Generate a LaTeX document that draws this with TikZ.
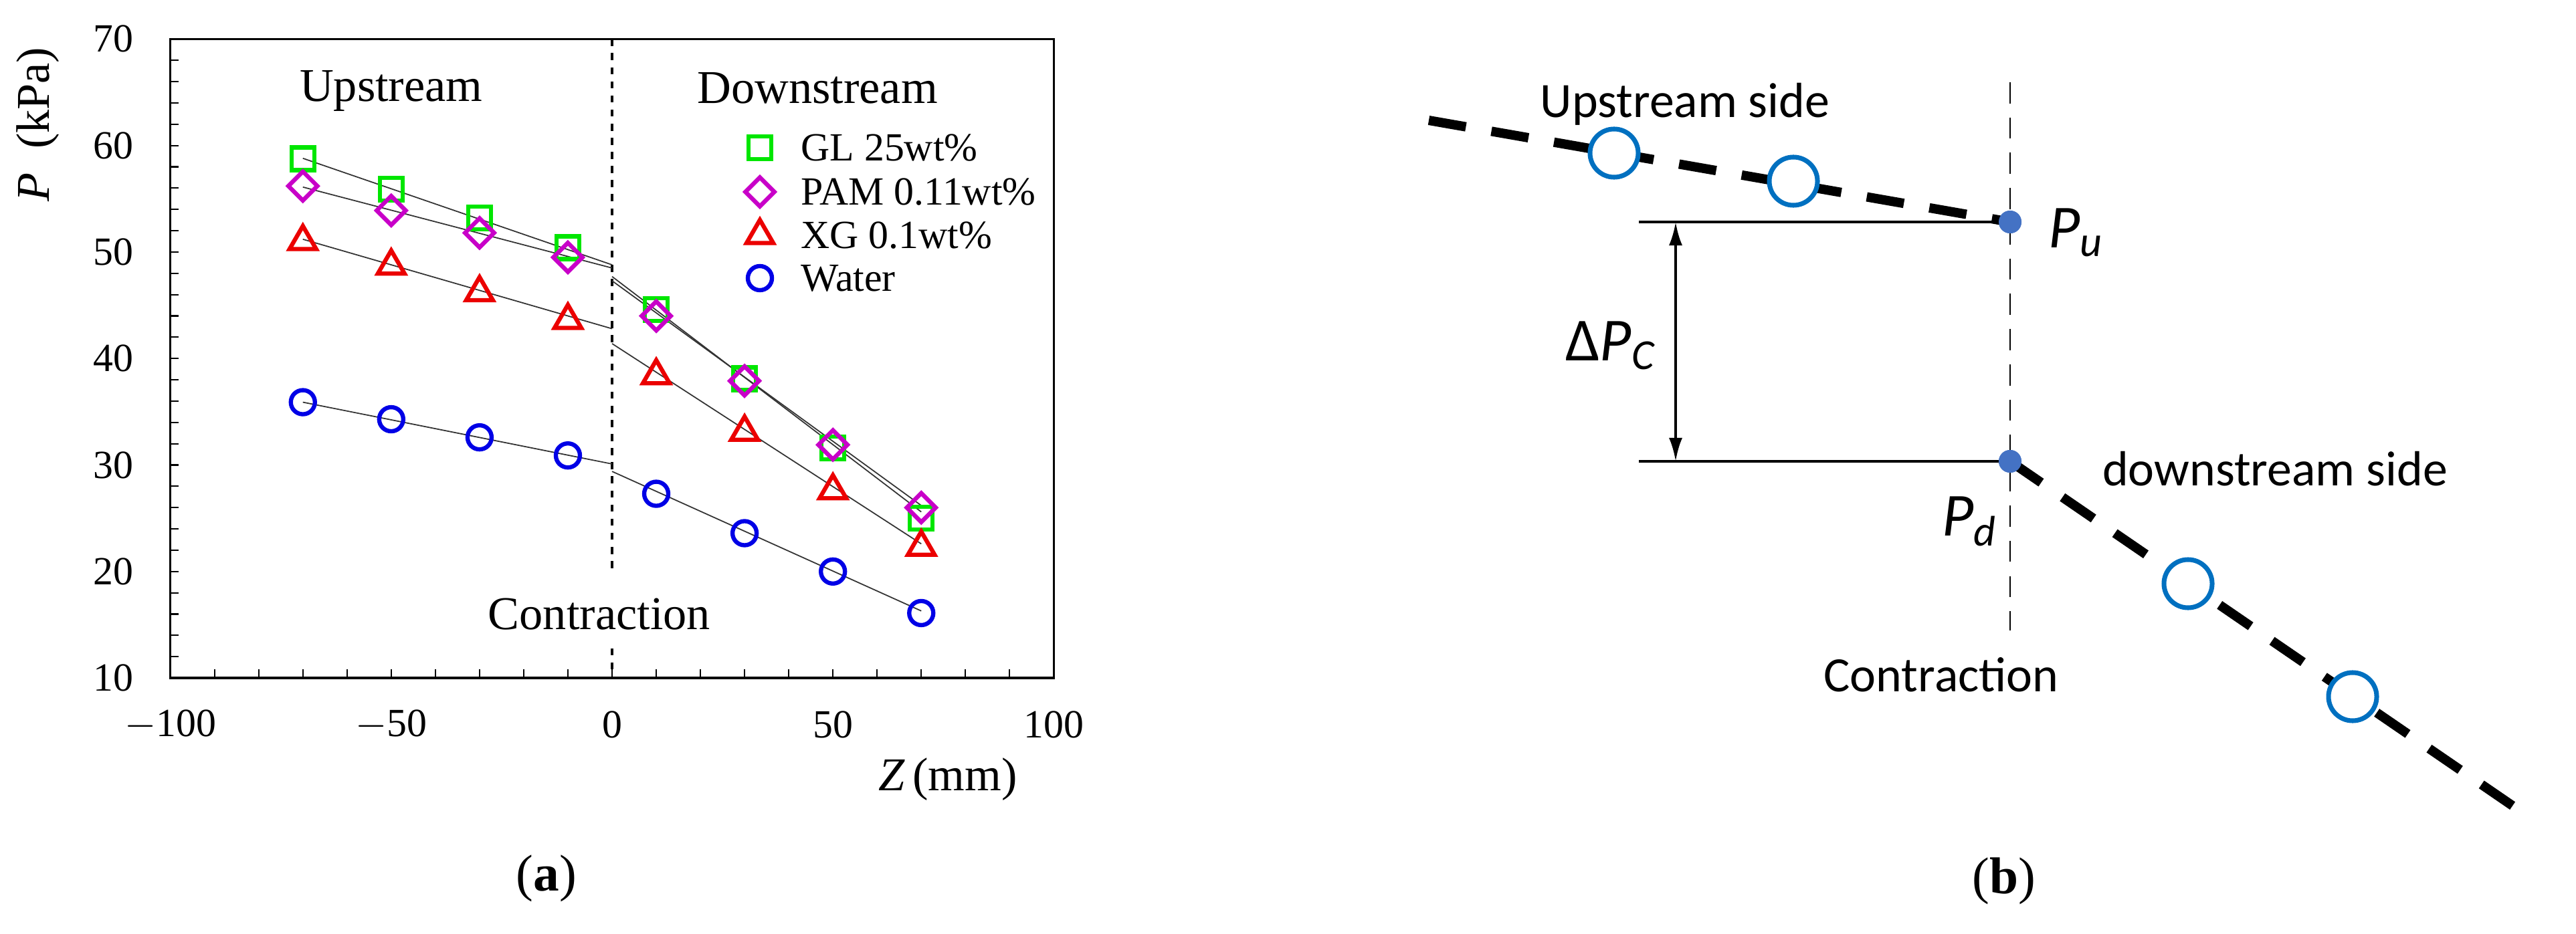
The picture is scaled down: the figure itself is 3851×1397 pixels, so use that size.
\documentclass[tikz,border=0pt]{standalone}
\usepackage{fontspec}
\setmainfont{Liberation Serif}
\newfontfamily\cb{Carlito}
\usetikzlibrary{shapes.geometric,arrows.meta}
\definecolor{gl}{RGB}{0,230,0}
\definecolor{pam}{RGB}{200,0,200}
\definecolor{xg}{RGB}{235,0,0}
\definecolor{wt}{RGB}{0,0,230}
\definecolor{cb}{RGB}{0,112,192}
\definecolor{dot}{RGB}{68,114,196}
\tikzset{
 mk/.style={draw,inner sep=0pt,line width=1.8pt},
 sq/.style={mk,rectangle,gl,minimum size=0.34cm},
 dm/.style={mk,diamond,pam,minimum size=0.46cm},
 tr/.style={mk,regular polygon,regular polygon sides=3,xg,minimum size=0.46cm},
 ci/.style={mk,circle,wt,minimum size=0.36cm},
 fit/.style={line width=0.5pt,black!80},
 ta/.style={font=\fontsize{20}{24}\selectfont,inner sep=0.5pt},
 tk/.style={font=\fontsize{17}{20}\selectfont,inner sep=0.5pt},
 tb/.style={font=\cb\fontsize{21}{25}\selectfont,inner sep=1pt},
 oc/.style={draw=cb,line width=2pt,fill=white,circle,minimum size=0.72cm,inner sep=0pt},
 pd/.style={fill=dot,circle,minimum size=0.34cm,inner sep=0pt},
}
\begin{document}
\begin{tikzpicture}[x=0.01cm,y=-0.01cm]
\useasboundingbox (0,0) rectangle (3851,1397);
% ---------- panel (a)
\begin{scope}[shift={(915,1173.4)},x=0.066cm,y=0.1592cm]
\draw[line width=1pt] (-100,10) rectangle (100,70);
\foreach \v in {12,14,...,68} \draw[line width=0.6pt] (-100,\v) -- ++(1.8,0);
\foreach \v in {-90,-80,...,90} \draw[line width=0.6pt] (\v,10) -- ++(0,0.8);
\foreach \v in {10,20,...,70} \node[tk,anchor=east] at (-108,\v) {\v};
\foreach \v/\t in {-100/$-$100,-50/$-$50,0/0,50/50,100/100} \node[tk] at (\v,5.6) {\t};
\draw[dashed,line width=1pt] (0,70) -- (0,19.7);
\draw[dashed,line width=1pt] (0,12.8) -- (0,10);
\node[ta] (up) at (-50,65.1) {Upstream};
\node[ta] (dn) at (46.5,65.4) {Downstream};
\node[ta] (con) at (-2.9,16.0) {Contraction};
\node[ta,rotate=90] (yl) at (-130,62) {\textit{P}\hspace{0.5em}(kPa)};
\node[ta] (xl) at (76,0.5) {\textit{Z}\,(mm)};
% fit lines
\draw[fit] (-70,58.8) -- (0,48.8);
\draw[fit] (-70,56.1) -- (0,48.5);
\draw[fit] (-70,51.2) -- (0,42.8);
\draw[fit] (-70,35.9) -- (0,30.1);
\draw[fit] (0,47.7) -- (70,25.6);
\draw[fit] (0,47.3) -- (70,26.2);
\draw[fit] (0,41.4) -- (70,22.6);
\draw[fit] (0,29.4) -- (70,16.3);
% data
\foreach \z/\p in {-70/58.75,-50/55.9,-30/53.2,-10/50.4,10/44.6,30/38.1,50/31.6,70/25.0} \node[sq] at (\z,\p) {};
\foreach \z/\p in {-70/56.2,-50/53.9,-30/51.8,-10/49.5,10/44.0,30/37.9,50/31.9,70/26.0} \node[dm] at (\z,\p) {};
\foreach \z/\p in {-70/51.0,-50/48.7,-30/46.2,-10/43.6,10/38.4,30/33.1,50/27.6,70/22.3} \node[tr] at (\z,\p) {};
\foreach \z/\p in {-70/35.9,-50/34.3,-30/32.6,-10/30.9,10/27.3,30/23.6,50/20.0,70/16.1} \node[ci] at (\z,\p) {};
\end{scope}
% legend
\node[sq] (l1) at (1136,221) {};
\node[dm] (l2) at (1136,287) {};
\node[tr] (l3) at (1136,352) {};
\node[ci] (l4) at (1136,416) {};
\node[tk,anchor=west] at (1195,221) {GL 25wt\%};
\node[tk,anchor=west] at (1195,287) {PAM 0.11wt\%};
\node[tk,anchor=west] at (1195,352) {XG 0.1wt\%};
\node[tk,anchor=west] at (1195,416) {Water};
\node[font=\fontsize{22}{26}\selectfont] (ca) at (817,1314) {(\textbf{a})};
% ---------- panel (b)
\coordinate (us) at (2136,180);
\coordinate (de) at (3785,1225);
\node[pd] (pu) at (3005,332) {};
\node[pd] (pdd) at (3005,690) {};
\coordinate (vt) at (3005,123);
\coordinate (vb) at (3005,943);
\coordinate (hu) at (2450,332);
\coordinate (hd) at (2450,690);
\draw[dashed,line width=0.8pt,dash pattern=on 9pt off 6pt] (vt) -- (vb);
\draw[line width=4pt,dash pattern=on 16pt off 11pt] (us) -- (pu.center);
\draw[line width=4pt,dash pattern=on 16pt off 11pt] (pdd.center) -- (de);
\draw[line width=1.2pt] (hu) -- (pu.center);
\draw[line width=1.2pt] (hd) -- (pdd.center);
\draw[line width=1.2pt,{Latex[length=0.35cm,width=0.2cm]}-{Latex[length=0.35cm,width=0.2cm]}] (2505,332) -- (2505,690);
\node[pd] at (pu) {};
\node[pd] at (pdd) {};
\node[oc] (c1) at (2413,229) {};
\node[oc] (c2) at (2681,271) {};
\node[oc] (c3) at (3271,873) {};
\node[oc] (c4) at (3517,1042) {};
\node[tb] (ups) at (2519,156) {Upstream side};
\node[tb] (dns) at (3401,701) {downstream side};
\node[tb] (cnb) at (2902,1009) {Contraction};
\node[font=\cb\fontsize{26}{30}\selectfont] (dp) at (2408,517) {Δ\textit{P}\textsubscript{\textit{C}}};
\node[font=\cb\fontsize{26}{30}\selectfont] (lu) at (3103,348) {\textit{P}\textsubscript{\textit{u}}};
\node[font=\cb\fontsize{26}{30}\selectfont] (ld) at (2944,780) {\textit{P}\textsubscript{\textit{d}}};
\node[font=\fontsize{22}{26}\selectfont] (cbb) at (2996,1318) {(\textbf{b})};
\end{tikzpicture}
\end{document}
